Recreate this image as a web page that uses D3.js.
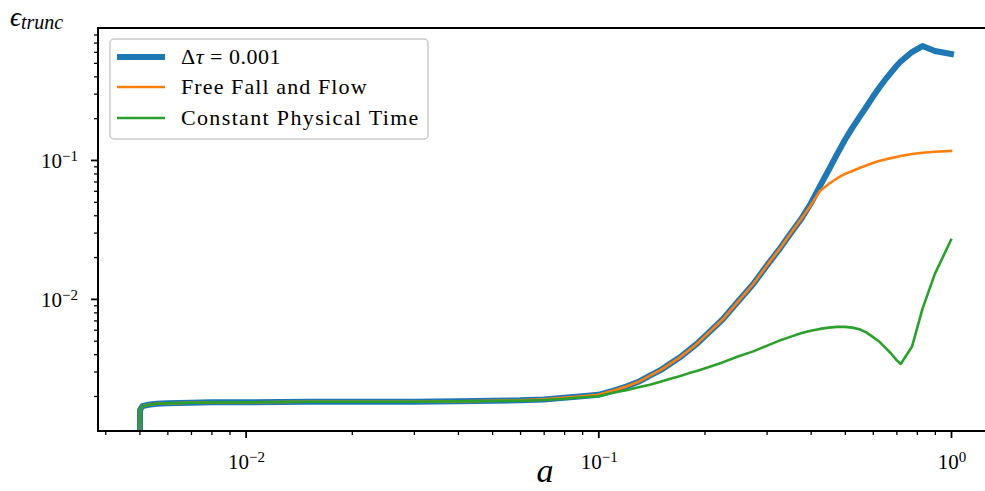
<!DOCTYPE html>
<html>
<head>
<meta charset="utf-8">
<script src="https://cdn.jsdelivr.net/npm/d3@7"></script>
<style>
  html, body { margin: 0; padding: 0; background: #fff; }
  svg { display: block; }
</style>
</head>
<body>
<svg id="chart" width="985" height="491" font-family="'Liberation Serif', 'DejaVu Serif', serif"></svg>
<script>
// Scale factor a, shared by all three runs
const aValues = [0.005, 0.00502, 0.0051, 0.0053, 0.0056, 0.006, 0.007, 0.008, 0.01, 0.015,
  0.02, 0.03, 0.04, 0.05, 0.06, 0.07, 0.08, 0.09, 0.1, 0.11, 0.12, 0.13, 0.14, 0.15, 0.16, 0.17, 0.18, 0.19, 0.2,
  0.225, 0.25, 0.275, 0.3, 0.325, 0.35, 0.375, 0.4, 0.425, 0.45, 0.475, 0.5, 0.525, 0.55, 0.575, 0.6,
  0.625, 0.65, 0.675, 0.7, 0.72, 0.775, 0.83, 0.9, 1.0];

// Truncation error, fixed step Δτ = 0.001
const errFixed = [0.0001, 0.00159, 0.00169, 0.00173, 0.00176, 0.00177, 0.00179, 0.0018, 0.0018, 0.00182,
  0.00182, 0.00182, 0.00183, 0.00185, 0.00186, 0.00189, 0.00194, 0.00199, 0.00204, 0.00218, 0.00234, 0.00253, 0.0028, 0.00307, 0.00342, 0.00378, 0.00424, 0.00474, 0.00535,
  0.0071, 0.00969, 0.0128, 0.01728, 0.02252, 0.0293, 0.03725, 0.0484, 0.0649, 0.0847, 0.1096, 0.1393, 0.170, 0.2037, 0.2405, 0.2838,
  0.330, 0.3767, 0.423, 0.4747, 0.5114, 0.5985, 0.6607, 0.608, 0.5794];

// Truncation error, free fall and flow step criterion
const errFreeFall = [0.0001, 0.00159, 0.00169, 0.00173, 0.00176, 0.00177, 0.00179, 0.0018, 0.0018, 0.00182,
  0.00182, 0.00182, 0.00183, 0.00185, 0.00186, 0.00189, 0.00194, 0.00199, 0.00204, 0.00218, 0.00234, 0.00253, 0.0028, 0.00307, 0.00342, 0.00378, 0.00424, 0.00474, 0.00535,
  0.0071, 0.00969, 0.0128, 0.01728, 0.02252, 0.0293, 0.03725, 0.0471, 0.0598, 0.0672, 0.0736, 0.0793, 0.0833, 0.0876, 0.0913, 0.0951,
  0.0984, 0.1008, 0.1031, 0.1051, 0.1068, 0.1104, 0.1127, 0.1147, 0.1161];

// Truncation error, constant physical time step
const errPhysTime = [0.0001, 0.00159, 0.00169, 0.00173, 0.00176, 0.00177, 0.00179, 0.0018, 0.0018, 0.00182,
  0.00182, 0.00182, 0.00183, 0.00184, 0.00185, 0.00187, 0.00191, 0.00196, 0.00199, 0.00211, 0.0022, 0.00231, 0.00241, 0.00253, 0.00266, 0.00277, 0.00291, 0.00303, 0.00316,
  0.00349, 0.00386, 0.00419, 0.00459, 0.00499, 0.00533, 0.00565, 0.00589, 0.00608, 0.00621, 0.00629, 0.00629, 0.00621, 0.00604, 0.00574, 0.00533,
  0.00494, 0.00448, 0.00406, 0.00364, 0.0034, 0.00452, 0.00847, 0.01514, 0.02655];

const seriesNames = ["Δτ = 0.001", "Free Fall and Flow", "Constant Physical Time"];
const seriesColors = ["#1f77b4", "#ff7f0e", "#2ca02c"];
const seriesWidths = [6, 2.6, 2.6];

const xTickValues = [0.01, 0.1, 1];
const xTickExps = ["−2", "−1", "0"];
const yTickValues = [0.01, 0.1];
const yTickExps = ["−2", "−1"];

const svg = d3.select("#chart");
const plotLeft = 98, plotTop = 28, plotBottom = 431;

const x = d3.scaleLog()
  .domain([Math.pow(10, -2.4185), Math.pow(10, 0.115)])
  .range([plotLeft, plotLeft + 2.5335 * 352.7]);
const y = d3.scaleLog()
  .domain([Math.pow(10, -2.951), Math.pow(10, -0.05)])
  .range([plotBottom, plotTop]);

const plotRight = x.range()[1];

svg.append("defs").append("clipPath").attr("id", "plotClip")
  .append("rect").attr("x", plotLeft).attr("y", plotTop)
  .attr("width", plotRight - plotLeft).attr("height", plotBottom - plotTop);

// Curves
const allSeries = [errFixed, errFreeFall, errPhysTime];
const line = d3.line().x(d => x(d[0])).y(d => y(d[1]));
const plot = svg.append("g").attr("clip-path", "url(#plotClip)");
allSeries.forEach((vals, i) => {
  plot.append("path")
    .datum(aValues.map((a, j) => [a, vals[j]]))
    .attr("d", line)
    .attr("fill", "none")
    .attr("stroke", seriesColors[i])
    .attr("stroke-width", seriesWidths[i])
    .attr("stroke-linejoin", "round")
    .attr("stroke-linecap", "square");
});

// Axes
function minorTicks(scale) {
  const [lo, hi] = scale.domain();
  const out = [];
  for (let e = Math.floor(Math.log10(lo)); e <= Math.ceil(Math.log10(hi)); e++) {
    for (let m = 2; m <= 9; m++) {
      const v = m * Math.pow(10, e);
      if (v >= lo && v <= hi) out.push(v);
    }
  }
  return out;
}

const xAxisMajor = d3.axisBottom(x).tickValues(xTickValues).tickSize(7).tickFormat("");
const xAxisMinor = d3.axisBottom(x).tickValues(minorTicks(x)).tickSize(4).tickFormat("");
const yAxisMajor = d3.axisLeft(y).tickValues(yTickValues).tickSize(7).tickFormat("");
const yAxisMinor = d3.axisLeft(y).tickValues(minorTicks(y)).tickSize(4).tickFormat("");

function styleAxis(g, w) {
  g.select(".domain").remove();
  g.selectAll(".tick line").attr("stroke", "#000").attr("stroke-width", w);
}
svg.append("g").attr("transform", `translate(0,${plotBottom})`).call(xAxisMinor).call(g => styleAxis(g, 1.3));
svg.append("g").attr("transform", `translate(0,${plotBottom})`).call(xAxisMajor).call(g => styleAxis(g, 1.8));
svg.append("g").attr("transform", `translate(${plotLeft},0)`).call(yAxisMinor).call(g => styleAxis(g, 1.3));
svg.append("g").attr("transform", `translate(${plotLeft},0)`).call(yAxisMajor).call(g => styleAxis(g, 1.8));

// Frame around the plot area
svg.append("rect").attr("x", plotLeft).attr("y", plotTop)
  .attr("width", plotRight - plotLeft).attr("height", plotBottom - plotTop)
  .attr("fill", "none").attr("stroke", "#000").attr("stroke-width", 2);

// Tick labels as 10^n
function powerLabel(g, xPos, yPos, exp, anchor) {
  const t = g.append("text").attr("x", xPos).attr("y", yPos)
    .attr("text-anchor", anchor).style("font-size", "21px").attr("fill", "#000");
  t.append("tspan").text("10");
  t.append("tspan").attr("dy", "-0.45em").style("font-size", "15px").text(exp);
}
const labels = svg.append("g");
xTickValues.forEach((v, i) => powerLabel(labels, x(v) + 1, 469, xTickExps[i], "middle"));
yTickValues.forEach((v, i) => powerLabel(labels, 78, y(v) + 8, yTickExps[i], "end"));

// Axis titles
svg.append("text").attr("x", 545).attr("y", 482).attr("text-anchor", "middle")
  .style("font-size", "34px").style("font-style", "italic").text("a");
const yl = svg.append("text").attr("x", 10).attr("y", 26).style("font-style", "italic");
yl.append("tspan").style("font-size", "27px").text("ϵ");
yl.append("tspan").attr("dy", 3).style("font-size", "20px").text("trunc");

// Legend
const lg = svg.append("g");
lg.append("rect").attr("x", 110).attr("y", 39).attr("width", 318).attr("height", 100)
  .attr("rx", 4).attr("fill", "#fff").attr("fill-opacity", 0.8)
  .attr("stroke", "#cccccc").attr("stroke-width", 1.5);
const rowsY = [57, 87, 118];
const rowSpacing = ["0.5px", "1.1px", "1.35px"];
seriesNames.forEach((name, i) => {
  lg.append("line").attr("x1", 117).attr("x2", 165).attr("y1", rowsY[i]).attr("y2", rowsY[i])
    .attr("stroke", seriesColors[i]).attr("stroke-width", seriesWidths[i]);
  const t = lg.append("text").attr("x", 181).attr("y", rowsY[i] + 7)
    .style("font-size", "22px").style("letter-spacing", rowSpacing[i]);
  if (i === 0) {
    t.append("tspan").text("Δ");
    t.append("tspan").style("font-style", "italic").text("τ");
    t.append("tspan").text(" = 0.001");
  } else {
    t.text(name);
  }
});
</script>
</body>
</html>
